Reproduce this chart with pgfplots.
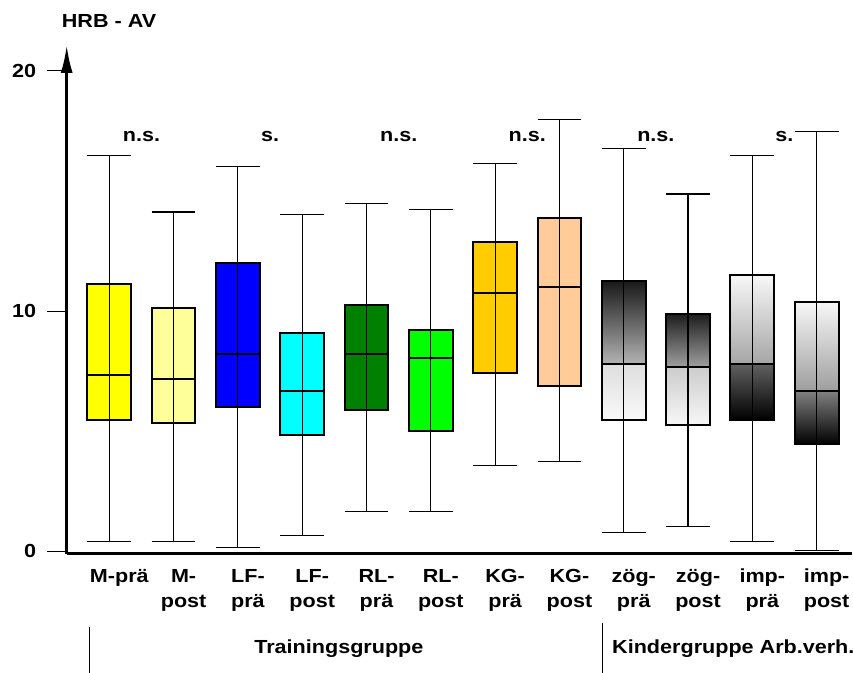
\documentclass[border=0pt]{standalone}
\usepackage{pgfplots}
\pgfplotsset{compat=1.18}
\usepgfplotslibrary{statistics}
\usetikzlibrary{arrows.meta}
\usepackage{fontspec}
\setmainfont{Liberation Sans}[FakeStretch=1.14]
\definecolor{cA}{HTML}{FFFF00}
\definecolor{cB}{HTML}{FFFF99}
\definecolor{cC}{HTML}{0000FF}
\definecolor{cD}{HTML}{00FFFF}
\definecolor{cE}{HTML}{008000}
\definecolor{cF}{HTML}{00FF00}
\definecolor{cG}{HTML}{FFCC00}
\definecolor{cH}{HTML}{FFCC99}
\newcommand{\lf}{\fontsize{19}{25}\selectfont\bfseries}
\begin{document}
\begin{tikzpicture}
\begin{axis}[
 at={(0,0)}, anchor=south west,
 scale only axis, width=785.3bp, height=508.7bp,
 xmin=-0.6625, xmax=11.55, ymin=-0.1, ymax=21.07,
 axis lines=left,
 axis line style={line width=2.8bp, black},
 x axis line style={-},
 y axis line style={-{Latex[length=28bp,width=12bp]}},
 ytick={0,10,20}, yticklabels={0,10,20},
 xtick={0,...,11},
 xticklabels={{M-prä}, {M-\\post}, {LF-\\prä}, {LF-\\post}, {RL-\\prä}, {RL-\\post}, {KG-\\prä}, {KG-\\post}, {zög-\\prä}, {zög-\\post}, {imp-\\prä}, {imp-\\post}},
 xtick style={draw=none},
 ytick style={line width=0.9bp, black},
 tick align=outside, major tick length=20bp,
 ticklabel style={font=\lf},
 xticklabel style={align=center, xshift=10bp, yshift=8bp},
 yticklabel style={xshift=-7bp},
 clip=false,
 boxplot/draw direction=y,
 boxplot/box extend=0.68, boxplot/whisker extend=0.68,
 boxplot/every box/.style={draw=black, line width=2bp},
 boxplot/every median/.style={draw=black, line width=2bp},
 boxplot/every whisker/.style={draw=black, line width=1.1bp},
]
% M-prae
\addplot[boxplot prepared={draw position=0, lower whisker=0.40, lower quartile=5.48, median=7.33, upper quartile=11.12, upper whisker=16.47}, boxplot/every box/.append style={fill=cA}] coordinates {};
\addplot[black, line width=1.1bp] coordinates {(0,0.40) (0,16.47)};
% M-post
\addplot[boxplot prepared={draw position=1, lower whisker=0.40, lower quartile=5.36, median=7.18, upper quartile=10.12, upper whisker=14.12}, boxplot/every box/.append style={fill=cB}] coordinates {};
\addplot[black, line width=1.1bp] coordinates {(1,0.40) (1,14.12)};
% LF-prae
\addplot[boxplot prepared={draw position=2, lower whisker=0.14, lower quartile=6.00, median=8.20, upper quartile=11.99, upper whisker=16.00}, boxplot/every box/.append style={fill=cC}] coordinates {};
\addplot[black, line width=1.1bp] coordinates {(2,0.14) (2,16.00)};
% LF-post
\addplot[boxplot prepared={draw position=3, lower whisker=0.64, lower quartile=4.86, median=6.66, upper quartile=9.07, upper whisker=14.00}, boxplot/every box/.append style={fill=cD}] coordinates {};
\addplot[black, line width=1.1bp] coordinates {(3,0.64) (3,14.00)};
% RL-prae
\addplot[boxplot prepared={draw position=4, lower whisker=1.67, lower quartile=5.87, median=8.20, upper quartile=10.26, upper whisker=14.49}, boxplot/every box/.append style={fill=cE}] coordinates {};
\addplot[black, line width=1.1bp] coordinates {(4,1.67) (4,14.49)};
% RL-post
\addplot[boxplot prepared={draw position=5, lower whisker=1.67, lower quartile=4.99, median=8.06, upper quartile=9.21, upper whisker=14.24}, boxplot/every box/.append style={fill=cF}] coordinates {};
\addplot[black, line width=1.1bp] coordinates {(5,1.67) (5,14.24)};
% KG-prae
\addplot[boxplot prepared={draw position=6, lower whisker=3.58, lower quartile=7.40, median=10.74, upper quartile=12.87, upper whisker=16.13}, boxplot/every box/.append style={fill=cG}] coordinates {};
\addplot[black, line width=1.1bp] coordinates {(6,3.58) (6,16.13)};
% KG-post
\addplot[boxplot prepared={draw position=7, lower whisker=3.72, lower quartile=6.89, median=11.00, upper quartile=13.87, upper whisker=17.98}, boxplot/every box/.append style={fill=cH}] coordinates {};
\addplot[black, line width=1.1bp] coordinates {(7,3.72) (7,17.98)};
% zoeg-prae (two graded halves)
\addplot[draw=none, top color=black!90, bottom color=black!30] coordinates {(7.66,11.23) (8.34,11.23) (8.34,7.81) (7.66,7.81)};
\addplot[draw=none, top color=black!13, bottom color=black!2] coordinates {(7.66,7.81) (8.34,7.81) (8.34,5.46) (7.66,5.46)};
\addplot[boxplot prepared={draw position=8, lower whisker=0.77, lower quartile=5.46, median=7.81, upper quartile=11.23, upper whisker=16.75}] coordinates {};
\addplot[black, line width=1.1bp] coordinates {(8,0.77) (8,16.75)};
% zoeg-post
\addplot[draw=none, top color=black!88, bottom color=black!38] coordinates {(8.66,9.86) (9.34,9.86) (9.34,7.68) (8.66,7.68)};
\addplot[draw=none, top color=black!20, bottom color=black!3] coordinates {(8.66,7.68) (9.34,7.68) (9.34,5.25) (8.66,5.25)};
\addplot[boxplot prepared={draw position=9, lower whisker=1.04, lower quartile=5.25, median=7.68, upper quartile=9.86, upper whisker=14.87}] coordinates {};
\addplot[black, line width=1.1bp] coordinates {(9,1.04) (9,14.87)};
% imp-prae
\addplot[draw=none, top color=black!3, bottom color=black!35] coordinates {(9.66,11.49) (10.34,11.49) (10.34,7.81) (9.66,7.81)};
\addplot[draw=none, top color=black!62, bottom color=black] coordinates {(9.66,7.81) (10.34,7.81) (10.34,5.46) (9.66,5.46)};
\addplot[boxplot prepared={draw position=10, lower whisker=0.39, lower quartile=5.46, median=7.81, upper quartile=11.49, upper whisker=16.47}] coordinates {};
\addplot[black, line width=1.1bp] coordinates {(10,0.39) (10,16.47)};
% imp-post
\addplot[draw=none, top color=black!3, bottom color=black!38] coordinates {(10.66,10.38) (11.34,10.38) (11.34,6.66) (10.66,6.66)};
\addplot[draw=none, top color=black!50, bottom color=black] coordinates {(10.66,6.66) (11.34,6.66) (11.34,4.45) (10.66,4.45)};
\addplot[boxplot prepared={draw position=11, lower whisker=0.03, lower quartile=4.45, median=6.66, upper quartile=10.38, upper whisker=17.48}] coordinates {};
\addplot[black, line width=1.1bp] coordinates {(11,0.03) (11,17.48)};

\node[font=\lf, anchor=west, inner sep=0pt] at (axis cs:-0.74,22.08) {HRB - AV};
\node[font=\lf] at (axis cs:0.5,17.28) {n.s.};
\node[font=\lf] at (axis cs:2.5,17.28) {s.};
\node[font=\lf] at (axis cs:4.5,17.28) {n.s.};
\node[font=\lf] at (axis cs:6.5,17.28) {n.s.};
\node[font=\lf] at (axis cs:8.5,17.28) {n.s.};
\node[font=\lf] at (axis cs:10.5,17.28) {s.};
\draw[line width=1.1bp] (axis cs:-0.311,-3.14) -- (axis cs:-0.311,-5.3);
\draw[line width=1.1bp] (axis cs:7.673,-2.98) -- (axis cs:7.673,-5.3);
\node[font=\lf] at (axis cs:3.57,-4.07) {Trainingsgruppe};
\node[font=\lf, anchor=west, inner sep=0pt] at (axis cs:7.818,-4.07) {Kindergruppe Arb.verh.};
\end{axis}
\pgfresetboundingbox
\useasboundingbox (-66.7bp,-119.3bp) rectangle (786.3bp,553.7bp);
\end{tikzpicture}
\end{document}
